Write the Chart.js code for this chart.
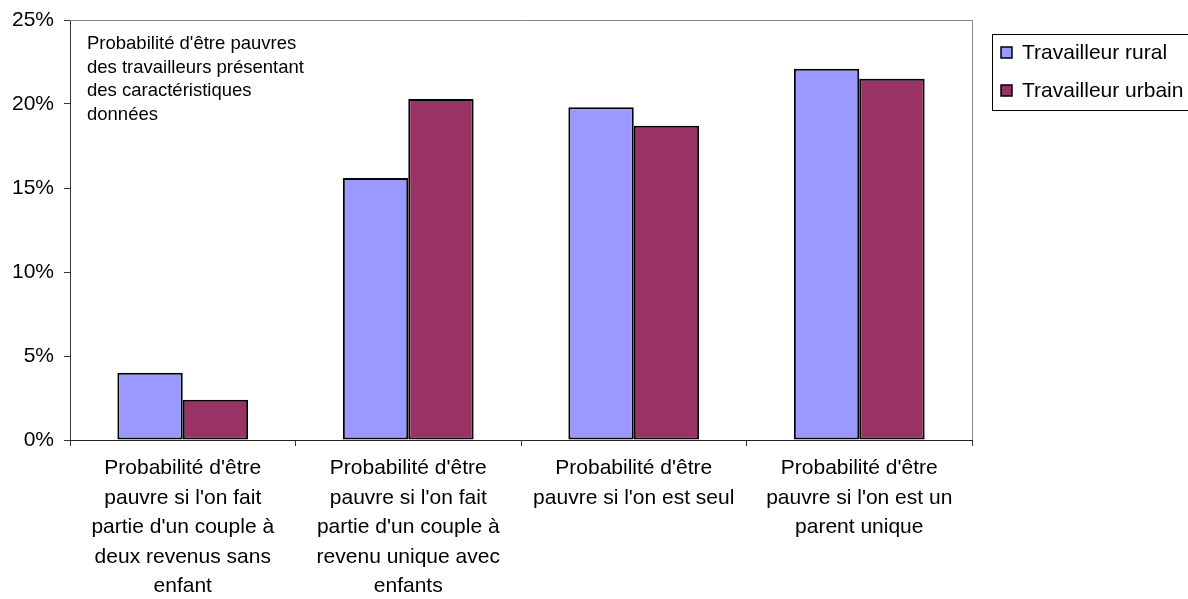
<!DOCTYPE html>
<html>
<head>
<meta charset="utf-8">
<script src="https://cdn.jsdelivr.net/npm/chart.js@4/dist/chart.umd.min.js"></script>
<style>
  body { margin: 0; background: #fff; }
  #wrap { width: 1188px; height: 599px; }
</style>
</head>
<body>
<div id="wrap"><canvas id="myChart" width="1188" height="599"></canvas></div>
<script>
// categories (multi-line labels, as in the source)
var categories = [
    ["Probabilité d'être", "pauvre si l'on fait", "partie d'un couple à", "deux revenus sans", "enfant"],
    ["Probabilité d'être", "pauvre si l'on fait", "partie d'un couple à", "revenu unique avec", "enfants"],
    ["Probabilité d'être", "pauvre si l'on est seul"],
    ["Probabilité d'être", "pauvre si l'on est un", "parent unique"]
];
var seriesNames = ["Travailleur rural", "Travailleur urbain"];
var rural = [4.0, 15.6, 19.8, 22.1];
var urbain = [2.4, 20.3, 18.7, 21.5];
var yTicks = [0, 5, 10, 15, 20, 25];
var note = ["Probabilité d'être pauvres", "des travailleurs présentant", "des caractéristiques", "données"];

var couleurs = ['#9999FF', '#993366'];
var police = '"Liberation Sans", Arial, sans-serif';

// cadre gris, texte et légende
var decor = {
    id: 'decor',
    afterDraw: function (chart) {
        var ctx = chart.ctx;
        var a = chart.chartArea;
        ctx.save();
        ctx.strokeStyle = '#888888';
        ctx.lineWidth = 1;
        ctx.beginPath();
        ctx.moveTo(a.left, a.top + 0.5);
        ctx.lineTo(a.right + 0.5, a.top + 0.5);
        ctx.lineTo(a.right + 0.5, a.bottom);
        ctx.stroke();

        ctx.fillStyle = '#000';
        ctx.font = '18.5px ' + police;
        ctx.textBaseline = 'middle';
        ctx.textAlign = 'left';
        for (var i = 0; i < note.length; i++) {
            ctx.fillText(note[i], 87, 44 + i * 23.5);
        }

        // legende
        ctx.strokeStyle = '#000';
        ctx.lineWidth = 1;
        ctx.strokeRect(992.5, 34.5, 200, 76);
        ctx.font = '21px ' + police;
        for (var k = 0; k < seriesNames.length; k++) {
            var y = 53 + k * 38;
            ctx.fillStyle = couleurs[k];
            ctx.fillRect(1001, y - 6, 11, 11);
            ctx.lineWidth = 1.5;
            ctx.strokeRect(1001, y - 6, 11, 11);
            ctx.fillStyle = '#000';
            ctx.fillText(seriesNames[k], 1022, y);
        }
        ctx.restore();
    }
};

var ctx = document.getElementById('myChart');
var chart = new Chart(ctx, {
    type: 'bar',
    data: {
        labels: categories,
        datasets: [{
            label: seriesNames[0],
            data: rural,
            backgroundColor: couleurs[0],
            borderColor: '#000',
            borderWidth: 2,
            borderSkipped: false,
            categoryPercentage: 0.58,
            barPercentage: 1.0
        }, {
            label: seriesNames[1],
            data: urbain,
            backgroundColor: couleurs[1],
            borderColor: '#000',
            borderWidth: 2,
            borderSkipped: false,
            categoryPercentage: 0.58,
            barPercentage: 1.0
        }]
    },
    options: {
        responsive: false,
        animation: false,
        layout: { padding: { top: 20, right: 216, left: 0, bottom: 0 } },
        plugins: {
            legend: { display: false },
            tooltip: { enabled: false }
        },
        scales: {
            x: {
                grid: { drawOnChartArea: false, tickLength: 6, color: '#000', tickColor: '#333' },
                border: { color: '#222', width: 1 },
                ticks: {
                    color: '#000',
                    font: { family: police, size: 21, lineHeight: 1.4 },
                    padding: 8,
                    maxRotation: 0,
                    autoSkip: false
                },
                afterFit: function (scale) { scale.height = 159; }
            },
            y: {
                min: 0,
                max: 25,
                afterBuildTicks: function (scale) {
                    scale.ticks = yTicks.map(function (v) { return { value: v }; });
                },
                grid: { drawOnChartArea: false, tickLength: 6, tickColor: '#333' },
                border: { color: '#333', width: 1 },
                ticks: {
                    color: '#000',
                    font: { family: police, size: 21 },
                    padding: 10,
                    callback: function (v) { return v + '%'; }
                },
                afterFit: function (scale) {
                    scale.width = 70;
                    scale.paddingTop = 0;
                    scale.paddingBottom = 0;
                }
            }
        }
    },
    plugins: [decor]
});
</script>
</body>
</html>
